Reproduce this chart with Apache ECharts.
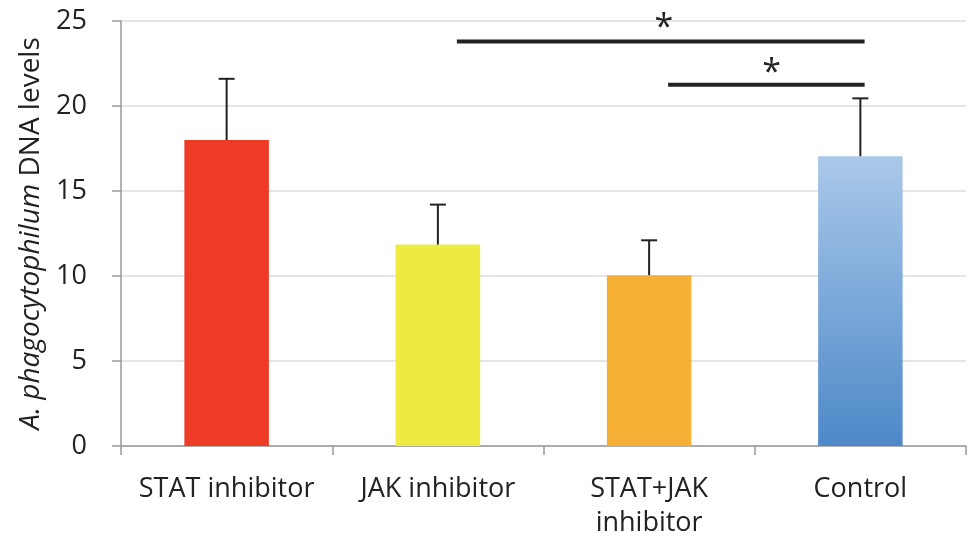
<!DOCTYPE html>
<html><head><meta charset="utf-8">
<script src="https://cdn.jsdelivr.net/npm/echarts@6/dist/echarts.min.js"></script>
<style>html,body{margin:0;padding:0;background:#fff}#c{width:971px;height:540px}</style>
</head><body><div id="c"></div>
<script>
var categories = ['STAT inhibitor', 'JAK inhibitor', 'STAT+JAK\ninhibitor', 'Control'];
var means = [18.0, 11.85, 10.05, 17.05];
var errors = [3.6, 2.35, 2.05, 3.4];
var yTicks = [0, 5, 10, 15, 20, 25];
// significance brackets: [xStart, xEnd, y] in category units (0..4)
var brackets = [[1.59, 3.52, 23.8], [2.59, 3.52, 21.25]];
var stars = [[2.57, 24.55, '*'], [3.08, 21.95, '*']];

var FONT = 'Open Sans';
var colors = [
  '#ee3b26',
  '#eeea42',
  '#f5b035',
  new echarts.graphic.LinearGradient(0, 0, 0, 1, [{offset: 0, color: '#aac8ea'}, {offset: 1, color: '#4d89c8'}])
];

var chart = echarts.init(document.getElementById('c'), null, {renderer: 'canvas'});
chart.setOption({
  animation: false,
  grid: {left: 121, right: 5, top: 21, bottom: 91, containLabel: false},
  xAxis: [{
    type: 'category',
    data: categories,
    axisLine: {lineStyle: {color: '#999', width: 1.5}},
    axisTick: {show: true, length: 9, lineStyle: {color: '#999', width: 1.5}},
    axisLabel: {color: '#222', fontFamily: FONT, fontSize: 27, margin: 26, lineHeight: 34,
      interval: 0, hideOverlap: false}
  }, {
    type: 'value', min: 0, max: 4, show: false
  }],
  yAxis: {
    type: 'value', min: 0, max: 25, interval: 5,
    axisLine: {show: true, lineStyle: {color: '#999', width: 1.5}},
    axisTick: {show: true, length: 9, lineStyle: {color: '#999', width: 1.5}},
    splitLine: {lineStyle: {color: '#dcdcdc', width: 1.5}},
    axisLabel: {color: '#222', fontFamily: FONT, fontSize: 27, margin: 34,
      formatter: function (v) { return yTicks.indexOf(v) >= 0 ? String(v) : ''; }},
    name: '{i|A. phagocytophilum}{n| DNA levels}',
    nameLocation: 'middle',
    nameGap: 74,
    nameTextStyle: {
      rich: {
        i: {fontStyle: 'italic', fontFamily: FONT, fontSize: 28, color: '#222'},
        n: {fontFamily: FONT, fontSize: 28, color: '#222'}
      }
    }
  },
  series: [{
    type: 'bar',
    barWidth: '40%',
    data: means.map(function (v, i) { return {value: v, itemStyle: {color: colors[i]}}; }),
    z: 2
  }, {
    type: 'custom',
    z: 3,
    data: means.map(function (v, i) { return [i, v, v + errors[i]]; }),
    renderItem: function (params, api) {
      var lo = api.coord([api.value(0), api.value(1)]);
      var hi = api.coord([api.value(0), api.value(2)]);
      var hw = 8;
      var st = {stroke: '#222', lineWidth: 2};
      return {type: 'group', children: [
        {type: 'line', shape: {x1: lo[0], y1: lo[1], x2: hi[0], y2: hi[1]}, style: st},
        {type: 'line', shape: {x1: hi[0] - hw, y1: hi[1], x2: hi[0] + hw, y2: hi[1]}, style: st}
      ]};
    }
  }, {
    type: 'custom',
    xAxisIndex: 1,
    z: 3,
    data: brackets,
    renderItem: function (params, api) {
      var a = api.coord([api.value(0), api.value(2)]);
      var b = api.coord([api.value(1), api.value(2)]);
      return {type: 'line', shape: {x1: a[0], y1: a[1], x2: b[0], y2: b[1]},
        style: {stroke: '#222', lineWidth: 4}};
    }
  }, {
    type: 'custom',
    xAxisIndex: 1,
    z: 3,
    data: stars,
    renderItem: function (params, api) {
      var p = api.coord([api.value(0), api.value(1)]);
      return {type: 'text', x: p[0], y: p[1],
        style: {text: stars[params.dataIndex][2], fill: '#222', fontFamily: FONT, fontSize: 34,
          textAlign: 'center', textVerticalAlign: 'middle'}};
    }
  }]
});
</script></body></html>
